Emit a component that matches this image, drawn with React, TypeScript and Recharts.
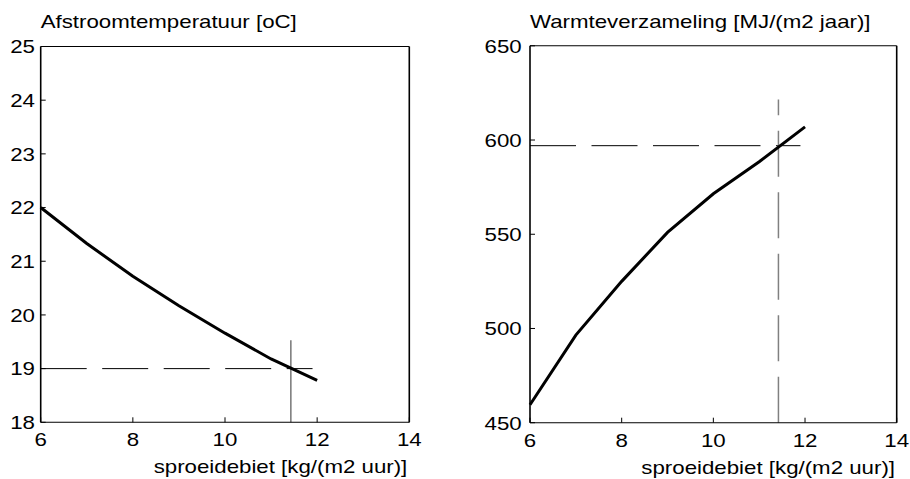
import React from 'react';
import { LineChart, Line, XAxis, YAxis, ReferenceLine } from 'recharts';

// Spray rate [kg/(m2 h)] and the two simulated responses
const flowRates = [6, 7, 8, 9, 10, 11, 12];
const runoffTemperature = [22.0, 21.33, 20.72, 20.17, 19.66, 19.18, 18.78];
const heatCollection = [459.5, 496.5, 525, 551, 571.5, 588.5, 607];

// Axis ticks
const flowTicks = [6, 8, 10, 12, 14];
const temperatureTicks = [18, 19, 20, 21, 22, 23, 24, 25];
const heatTicks = [450, 500, 550, 600, 650];

// Chosen operating point and its guide lines
const designFlow = 11.43;
const guideEnd = 11.9;
const designTemperature = 19;
const temperatureMarkerTop = 19.53;
const designHeat = 597;
const heatMarkerTop = 621.5;

const temperatureRows = flowRates.map((x, i) => ({ x, y: runoffTemperature[i] }));
const heatRows = flowRates.map((x, i) => ({ x, y: heatCollection[i] }));

const FONT = "'Liberation Sans', Arial, Helvetica, sans-serif";
const FONT_SIZE = 19.2;
const STRETCH = 1.16;

function BottomTick(props: any) {
  const { x, y, payload } = props;
  return (
    <g transform={`translate(${x},${y})`}>
      <text
        transform={`scale(${STRETCH},1)`}
        textAnchor="middle"
        dy="0.71em"
        fontFamily={FONT}
        fontSize={FONT_SIZE}
        fill="#000"
      >
        {payload.value}
      </text>
    </g>
  );
}

function LeftTick(props: any) {
  const { x, y, payload } = props;
  return (
    <g transform={`translate(${x},${y})`}>
      <text
        transform={`scale(${STRETCH},1)`}
        textAnchor="end"
        dy="0.355em"
        fontFamily={FONT}
        fontSize={FONT_SIZE}
        fill="#000"
      >
        {payload.value}
      </text>
    </g>
  );
}

function titleLabel(text: string, rise: number) {
  return (p: any) => {
    const vb = p.viewBox || {};
    return (
      <g transform={`translate(${vb.x},${vb.y + (vb.height || 0) - rise})`}>
        <text transform={`scale(${STRETCH},1)`} textAnchor="start" fontFamily={FONT} fontSize={FONT_SIZE} fill="#000">
          {text}
        </text>
      </g>
    );
  };
}

function xCaption(text: string, drop: number, inset: number) {
  return (p: any) => {
    const vb = p.viewBox || {};
    return (
      <g transform={`translate(${vb.x + vb.width - inset},${vb.y + drop})`}>
        <text transform={`scale(${STRETCH},1)`} textAnchor="end" fontFamily={FONT} fontSize={FONT_SIZE} fill="#000">
          {text}
        </text>
      </g>
    );
  };
}

const axisLineH = { stroke: '#000', strokeWidth: 1.1 };
const axisLineV = { stroke: '#000', strokeWidth: 1.6 };
const tickLineStyle = { stroke: '#000', strokeWidth: 1 };

interface PanelProps {
  rows: { x: number; y: number }[];
  yDomain: [number, number];
  yTicks: number[];
  yAxisWidth: number;
  yTickMargin: number;
  margin: { top: number; right: number; bottom: number; left: number };
  xAxisHeight: number;
  title: string;
  titleRise: number;
  xLabelInset: number;
  children?: React.ReactNode;
}

function Panel(props: PanelProps) {
  const { rows, yDomain, yTicks, yAxisWidth, yTickMargin, margin, xAxisHeight, title, titleRise, xLabelInset } = props;
  return (
    <LineChart width={455} height={479} data={rows} margin={margin}>
      <XAxis
        xAxisId="b"
        dataKey="x"
        type="number"
        domain={[6, 14]}
        ticks={flowTicks}
        interval={0}
        orientation="bottom"
        height={xAxisHeight}
        tickSize={-5}
        tickMargin={15.2}
        axisLine={axisLineH}
        tickLine={tickLineStyle}
        tick={<BottomTick />}
        label={xCaption('sproeidebiet [kg/(m2 uur)]', 51, xLabelInset)}
      />
      <XAxis
        xAxisId="t"
        dataKey="x"
        type="number"
        domain={[6, 14]}
        ticks={flowTicks}
        interval={0}
        orientation="top"
        height={1}
        tickSize={-5}
        axisLine={axisLineH}
        tickLine={tickLineStyle}
        tick={false}
        label={titleLabel(title, titleRise)}
      />
      <YAxis
        yAxisId="l"
        type="number"
        domain={yDomain}
        ticks={yTicks}
        interval={0}
        orientation="left"
        width={yAxisWidth}
        tickSize={-5}
        tickMargin={yTickMargin}
        axisLine={axisLineV}
        tickLine={tickLineStyle}
        tick={<LeftTick />}
      />
      <YAxis
        yAxisId="r"
        type="number"
        domain={yDomain}
        ticks={yTicks}
        interval={0}
        orientation="right"
        width={1}
        tickSize={-5}
        axisLine={axisLineV}
        tickLine={tickLineStyle}
        tick={false}
      />
      {props.children}
      <Line
        xAxisId="b"
        yAxisId="l"
        type="linear"
        dataKey="y"
        stroke="#000"
        strokeWidth={3}
        dot={false}
        activeDot={false}
        isAnimationActive={false}
      />
    </LineChart>
  );
}

export default function App() {
  return (
    <div style={{ position: 'absolute', left: 0, top: 0, width: 910, height: 479, background: '#fff' }}>
      <div style={{ position: 'absolute', left: 0, top: 0 }}>
        <Panel
          rows={temperatureRows}
          yDomain={[18, 25]}
          yTicks={temperatureTicks}
          yAxisWidth={40.7}
          yTickMargin={10.7}
          margin={{ top: 45.5, right: 44.7, bottom: 0, left: 0 }}
          xAxisHeight={56.7}
          title="Afstroomtemperatuur [oC]"
          titleRise={18.2}
          xLabelInset={2}
        >
          <ReferenceLine
            xAxisId="b"
            yAxisId="l"
            segment={[
              { x: 6, y: designTemperature },
              { x: guideEnd, y: designTemperature },
            ]}
            stroke="#000"
            strokeWidth={1}
            strokeDasharray="46 15.5"
          />
          <ReferenceLine
            xAxisId="b"
            yAxisId="l"
            segment={[
              { x: designFlow, y: 18 },
              { x: designFlow, y: temperatureMarkerTop },
            ]}
            stroke="#444"
            strokeWidth={1.1}
          />
        </Panel>
      </div>
      <div style={{ position: 'absolute', left: 455, top: 0 }}>
        <Panel
          rows={heatRows}
          yDomain={[450, 650]}
          yTicks={heatTicks}
          yAxisWidth={75}
          yTickMargin={13.3}
          margin={{ top: 44.8, right: 12.3, bottom: 0, left: 0 }}
          xAxisHeight={56.3}
          title="Warmteverzameling [MJ/(m2 jaar)]"
          titleRise={17.5}
          xLabelInset={1.7}
        >
          <ReferenceLine
            xAxisId="b"
            yAxisId="l"
            segment={[
              { x: 6, y: designHeat },
              { x: guideEnd, y: designHeat },
            ]}
            stroke="#000"
            strokeWidth={1}
            strokeDasharray="46 15.5"
          />
          <ReferenceLine
            xAxisId="b"
            yAxisId="l"
            segment={[
              { x: designFlow - 0.01, y: 450 },
              { x: designFlow - 0.01, y: heatMarkerTop },
            ]}
            stroke="#808080"
            strokeWidth={1.5}
            strokeDasharray="46 15.5"
          />
        </Panel>
      </div>
    </div>
  );
}
